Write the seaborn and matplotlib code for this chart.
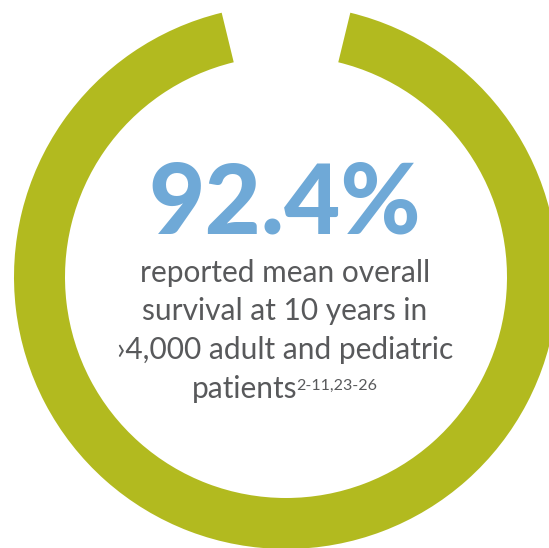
import matplotlib
matplotlib.use("Agg")
import matplotlib.pyplot as plt
import seaborn as sns

# data
segments = ["survival", "remainder"]
values = [92.4, 7.6]
headline = "92.4%"
lines = ["reported mean overall", "survival at 10 years in", "\u203a4,000 adult and pediatric", "patients"]
superscript = "2-11,23-26"

ring_color = "#b2ba1f"
blue = "#6fa9d7"
gray = "#58595b"

sns.set_theme(style="white")
plt.rcParams["font.family"] = ["Lato", "DejaVu Sans"]

W, H = 549, 548
fig = plt.figure(figsize=(W / 100, H / 100), dpi=100)
fig.patch.set_facecolor("white")

cx, cy_top, R = 286, 277, 272
ax = fig.add_axes([(cx - R) / W, (H - cy_top - R) / H, 2 * R / W, 2 * R / H])
ax.set_axis_off()

gap_frac = values[1] / sum(values)
start = 90 + gap_frac * 360 / 2
ax.pie(values, colors=[ring_color, "none"], startangle=start, counterclock=True,
       radius=1.0, wedgeprops=dict(width=51 / 272, edgecolor="none", linewidth=0))
ax.set_xlim(-1, 1)
ax.set_ylim(-1, 1)
ax.set_aspect("auto")


def dy(py):
    return (cy_top - py) / R


def dx(px):
    return (px - cx) / R


ax.text(dx(285), dy(233), headline, ha="center", va="baseline", color=blue,
        fontsize=70, fontweight="black")

baselines = [282, 320, 359, 398]
for i, (t, b) in enumerate(zip(lines, baselines)):
    if i < 3:
        ax.text(dx(285), dy(b), t, ha="center", va="baseline", color=gray, fontsize=21.5)

# last line with superscript, centered together
fig.canvas.draw()
r = fig.canvas.get_renderer()
t1 = ax.text(0, 0, lines[3], ha="left", va="baseline", color=gray, fontsize=21.5)
t2 = ax.text(0, 0, superscript, ha="left", va="baseline", color=gray, fontsize=11.5)
w1 = t1.get_window_extent(r).width
w2 = t2.get_window_extent(r).width
left_px = 285 - (w1 + w2) / 2
t1.set_position((dx(left_px), dy(baselines[3])))
t2.set_position((dx(left_px + w1 - 1), dy(390)))

fig.savefig("out.png", dpi=100, facecolor="white")
